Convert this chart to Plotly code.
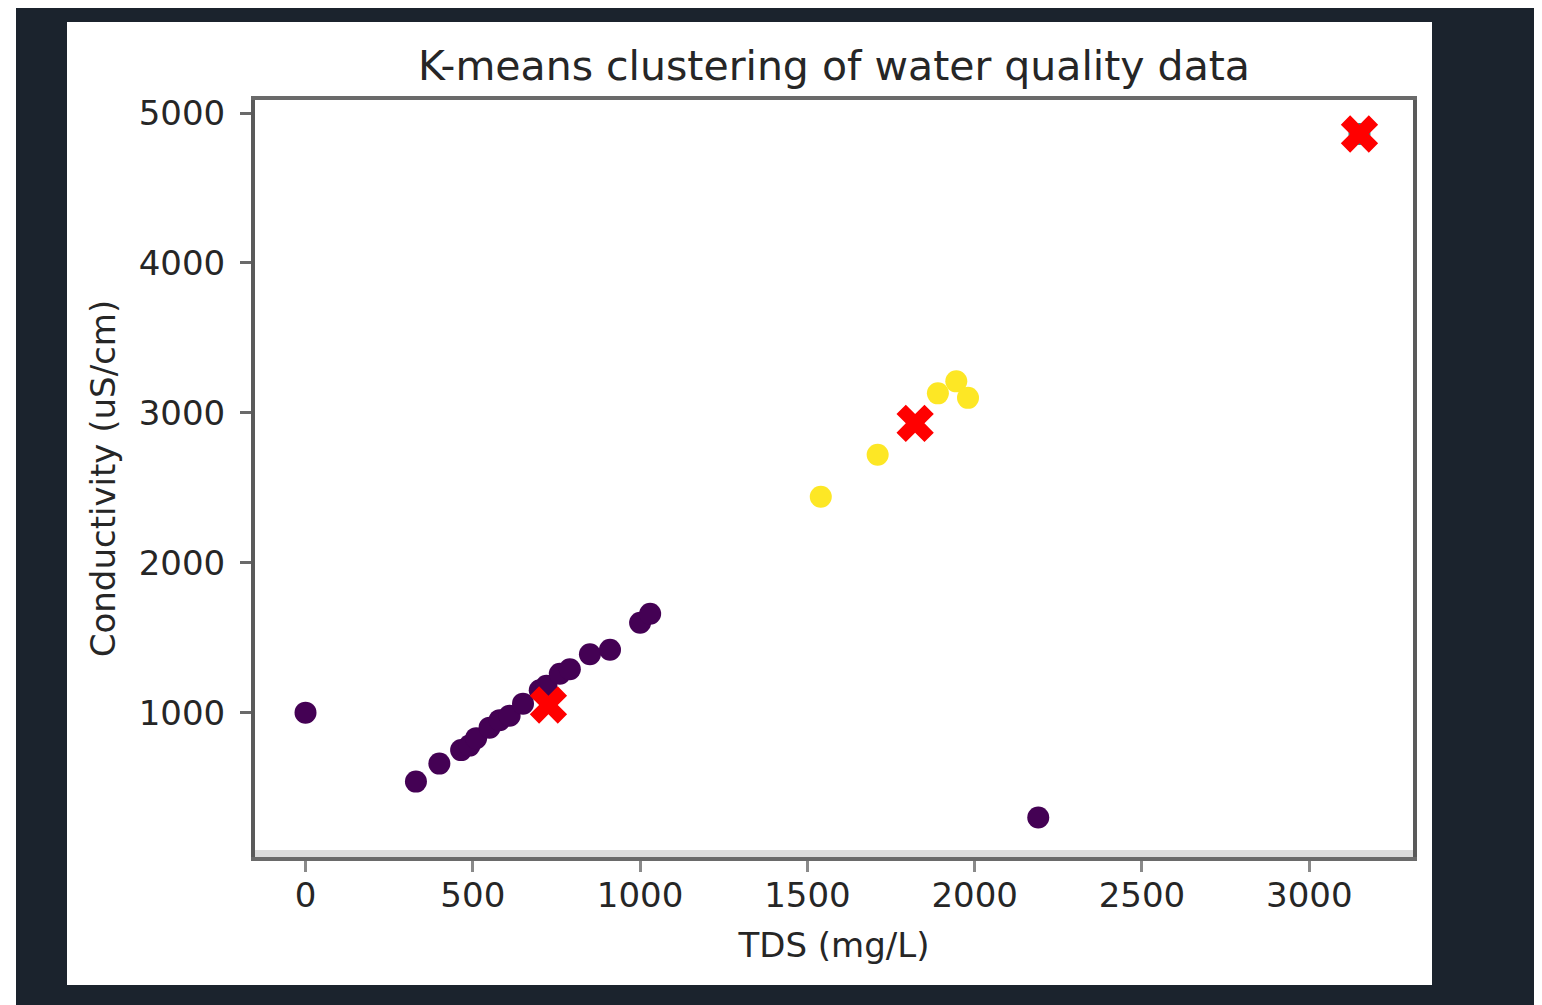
import plotly.graph_objects as go

# ---- data ----
purple_tds = [0, 330, 400, 465, 490, 510, 550, 580, 610, 650, 700, 720, 760, 790, 850, 910, 1000, 1030, 2190]
purple_cond = [1000, 540, 660, 750, 780, 830, 900, 950, 980, 1060, 1150, 1180, 1260, 1290, 1390, 1420, 1600, 1660, 300]

yellow_tds = [1540, 1710, 1890, 1945, 1980]
yellow_cond = [2440, 2720, 3130, 3210, 3100]

teal_tds = [3150]
teal_cond = [4860]

centroid_tds = [726, 1822, 3150]
centroid_cond = [1051, 2930, 4860]

x_ticks = [0, 500, 1000, 1500, 2000, 2500, 3000]
y_ticks = [1000, 2000, 3000, 4000, 5000]

# ---- figure geometry (pixels, relative to the figure; page adds an 8px body margin) ----
OFF = 8
W, H = 1537 - OFF, 1005 - OFF
L, R, T, B = 255 - OFF, 1413 - OFF, 100 - OFF, 857 - OFF
PW, PH = R - L, B - T


def px(x):
    return (x - L) / PW


def py(y):
    return (B - y) / PH


FONT = "DejaVu Sans"
TXT = "#262626"

fig = go.Figure()
fig.add_trace(go.Scatter(x=purple_tds, y=purple_cond, mode="markers",
                         marker=dict(color="#440154", size=22, line=dict(width=0)),
                         showlegend=False, cliponaxis=False))
fig.add_trace(go.Scatter(x=yellow_tds, y=yellow_cond, mode="markers",
                         marker=dict(color="#fde725", size=22, line=dict(width=0)),
                         showlegend=False, cliponaxis=False))
fig.add_trace(go.Scatter(x=teal_tds, y=teal_cond, mode="markers",
                         marker=dict(color="#21918c", size=22, line=dict(width=0)),
                         showlegend=False, cliponaxis=False))
fig.add_trace(go.Scatter(x=centroid_tds, y=centroid_cond, mode="markers",
                         marker=dict(color="#ff0000", size=33, symbol="x", line=dict(width=0)),
                         showlegend=False, cliponaxis=False))

shapes = [
    # white strip at the left image edge
    dict(type="rect", xref="paper", yref="paper", x0=px(0), x1=px(16 - OFF), y0=py(H), y1=py(0),
         fillcolor="white", line=dict(width=0), layer="below"),
    # white figure panel
    dict(type="rect", xref="paper", yref="paper", x0=px(67 - OFF), x1=px(1432 - OFF),
         y0=py(985 - OFF), y1=py(22 - OFF),
         fillcolor="white", line=dict(width=0), layer="below"),
    # light grey band above bottom spine
    dict(type="rect", xref="paper", yref="paper", x0=0, x1=1, y0=0, y1=py(850 - OFF),
         fillcolor="#dcdcdc", line=dict(width=0), layer="below"),
]

fig.update_layout(
    width=W, height=H,
    margin=dict(l=L, r=W - R, t=T, b=H - B, pad=0),
    paper_bgcolor="#1b232d",
    plot_bgcolor="white",
    shapes=shapes,
    font=dict(family=FONT, color=TXT, size=34),
    title=dict(text="K-means clustering of water quality data",
               x=(0.5 * (L + R)) / W, xanchor="center",
               y=1 - (66 - OFF) / H, yanchor="middle",
               font=dict(family=FONT, size=41, color=TXT)),
    xaxis=dict(range=[-151, 3310], tickvals=x_ticks, showgrid=False, zeroline=False,
               showline=True, linecolor="#6a6a6a", linewidth=4, mirror=True,
               ticks="outside", ticklen=11, tickwidth=3, tickcolor="#8a8a8a",
               ticklabelstandoff=-6,
               tickfont=dict(family=FONT, size=34, color=TXT),
               title=dict(text="TDS (mg/L)", standoff=20,
                          font=dict(family=FONT, size=34, color=TXT))),
    yaxis=dict(range=[37, 5087], tickvals=y_ticks, showgrid=False, zeroline=False,
               showline=True, linecolor="#5a5a5a", linewidth=4, mirror=True,
               ticks="outside", ticklen=11, tickwidth=3, tickcolor="#6a6a6a",
               ticklabelstandoff=8,
               tickfont=dict(family=FONT, size=34, color=TXT),
               title=dict(text="Conductivity (uS/cm)", standoff=14,
                          font=dict(family=FONT, size=34, color=TXT))),
)

fig.write_html("out.html")
